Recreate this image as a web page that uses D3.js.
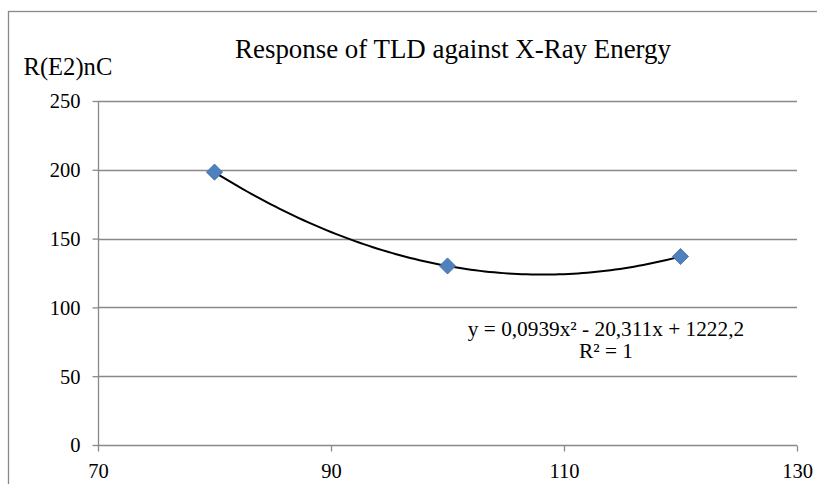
<!DOCTYPE html>
<html>
<head>
<meta charset="utf-8">
<script src="https://cdn.jsdelivr.net/npm/d3@7"></script>
</head>
<body style="margin:0;padding:0;background:#fff">
<svg id="chart" width="817" height="484" style="display:block" font-family="Liberation Serif"></svg>
<script>
// ---- data ----
const energies = [80, 100, 120];
const responses = [198.3, 130.1, 137.0];
const xTicks = [70, 90, 110, 130];
const yTicks = [0, 50, 100, 150, 200, 250];
const chartTitle = "Response of TLD against X-Ray Energy";
const yAxisTitle = "R(E2)nC";
const equationLines = ["y = 0,0939x² - 20,311x + 1222,2", "R² = 1"];

// ---- layout ----
const W = 817, H = 484;
const plot = { left: 98, right: 797, top: 101, bottom: 445 };
const gridColor = "#898989";
const FONT = '"Liberation Serif", "Times New Roman", serif';

const svg = d3.select("#chart");
svg.append("rect").attr("width", W).attr("height", H).attr("fill", "#fff");

// outer chart border (clipped by the window on right/bottom)
svg.append("rect")
  .attr("x", 8.5).attr("y", 11.5)
  .attr("width", 900).attr("height", 600)
  .attr("fill", "none").attr("stroke", gridColor).attr("stroke-width", 1.3);

const x = d3.scaleLinear().domain([70, 130]).range([plot.left, plot.right]);
const y = d3.scaleLinear().domain([0, 250]).range([plot.bottom, plot.top]);

// gridlines
svg.append("g").selectAll("line").data(yTicks.filter(d => d > 0)).join("line")
  .attr("x1", plot.left).attr("x2", plot.right)
  .attr("y1", d => Math.round(y(d)) + 0.5).attr("y2", d => Math.round(y(d)) + 0.5)
  .attr("stroke", gridColor).attr("stroke-width", 1.3);

// y axis
const yAxis = svg.append("g")
  .attr("transform", `translate(${plot.left + 0.5},0)`)
  .call(d3.axisLeft(y).tickValues(yTicks).tickSize(6).tickPadding(12).tickFormat(d3.format("d")));
yAxis.attr("font-family", null).attr("font-size", null);
yAxis.select(".domain").attr("stroke", gridColor).attr("stroke-width", 1.3).attr("d", `M0,${plot.top}V${plot.bottom}`);
yAxis.selectAll(".tick line").attr("stroke", gridColor).attr("stroke-width", 1.3);
yAxis.selectAll(".tick text").style("font-family", FONT).attr("font-size", 20.5).attr("fill", "#000").attr("dy", "0.34em");

// x axis
const xAxis = svg.append("g")
  .attr("transform", `translate(0,${plot.bottom + 0.5})`)
  .call(d3.axisBottom(x).tickValues(xTicks).tickSize(6).tickPadding(0).tickFormat(d3.format("d")));
xAxis.attr("font-family", null).attr("font-size", null);
xAxis.select(".domain").attr("stroke", gridColor).attr("stroke-width", 1.3).attr("d", `M${plot.left},0H${plot.right}`);
xAxis.selectAll(".tick line").attr("stroke", gridColor).attr("stroke-width", 1.3);
xAxis.selectAll(".tick text").style("font-family", FONT).attr("font-size", 20.5).attr("fill", "#000")
  .attr("dy", null).attr("y", 32);

// quadratic least-squares trendline from the data
function polyfit2(xs, ys) {
  const n = xs.length;
  let s = [0,0,0,0,0], t = [0,0,0];
  for (let i = 0; i < n; i++) {
    for (let k = 0; k < 5; k++) s[k] += Math.pow(xs[i], k);
    for (let k = 0; k < 3; k++) t[k] += ys[i] * Math.pow(xs[i], k);
  }
  const A = [[s[0], s[1], s[2], t[0]], [s[1], s[2], s[3], t[1]], [s[2], s[3], s[4], t[2]]];
  for (let c = 0; c < 3; c++) {
    let p = c;
    for (let r = c + 1; r < 3; r++) if (Math.abs(A[r][c]) > Math.abs(A[p][c])) p = r;
    [A[c], A[p]] = [A[p], A[c]];
    for (let r = 0; r < 3; r++) if (r !== c) {
      const f = A[r][c] / A[c][c];
      for (let k = c; k < 4; k++) A[r][k] -= f * A[c][k];
    }
  }
  return [A[0][3] / A[0][0], A[1][3] / A[1][1], A[2][3] / A[2][2]];
}
const coef = polyfit2(energies, responses);
const xMin = d3.min(energies), xMax = d3.max(energies);
const curvePts = d3.range(0, 101).map(i => {
  const xv = xMin + (xMax - xMin) * i / 100;
  return [xv, coef[0] + coef[1] * xv + coef[2] * xv * xv];
});
svg.append("path")
  .datum(curvePts)
  .attr("d", d3.line().x(d => x(d[0])).y(d => y(d[1])))
  .attr("fill", "none").attr("stroke", "#000").attr("stroke-width", 2);

// markers (diamonds)
const diamond = d3.symbol().type(d3.symbolSquare).size(130);
svg.append("g").selectAll("path").data(energies.map((e, i) => [e, responses[i]])).join("path")
  .attr("d", diamond)
  .attr("transform", d => `translate(${x(d[0])},${y(d[1])}) rotate(45)`)
  .attr("fill", "#4F81BD").attr("stroke", "#3C6AA3").attr("stroke-width", 0.8);

// titles
svg.append("text").attr("x", 453).attr("y", 58).attr("text-anchor", "middle")
  .style("font-family", FONT).attr("font-size", 26.9).text(chartTitle);
svg.append("text").attr("x", 23.5).attr("y", 75)
  .style("font-family", FONT).attr("font-size", 24.6).text(yAxisTitle);

// trendline equation
svg.append("g").selectAll("text").data(equationLines).join("text")
  .attr("x", 606).attr("y", (d, i) => 336 + i * 22)
  .attr("text-anchor", "middle")
  .style("font-family", FONT).attr("font-size", 21.3).text(d => d);
</script>
</body>
</html>
